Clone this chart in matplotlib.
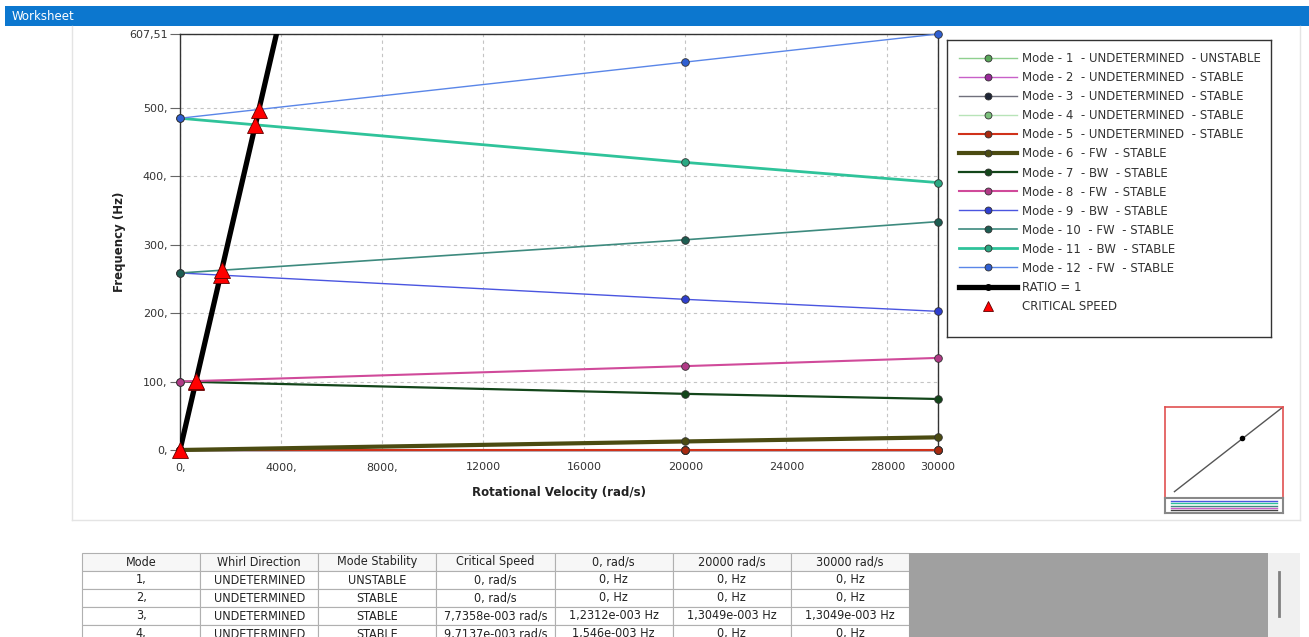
import numpy as np
import matplotlib
matplotlib.use('Agg')
import matplotlib.pyplot as plt
from matplotlib.lines import Line2D
from matplotlib.patches import Rectangle

W, H = 1309, 637

speeds = [0, 20000, 30000]
mode_freqs = {
    1: [0.0, 0.0, 0.0],
    2: [0.0, 0.0, 0.0],
    3: [0.0012312, 0.0013049, 0.0013049],
    4: [0.001546, 0.0, 0.0],
    5: [0.0, 0.0, 0.0],
    6: [0.0, 12.5, 18.5],
    7: [100.0, 82.0, 74.5],
    8: [100.0, 122.5, 134.5],
    9: [258.5, 220.0, 202.5],
    10: [258.5, 307.0, 333.5],
    11: [484.5, 420.0, 390.5],
    12: [484.5, 566.5, 607.51],
}
mode_labels = [
    'Mode - 1  - UNDETERMINED  - UNSTABLE',
    'Mode - 2  - UNDETERMINED  - STABLE',
    'Mode - 3  - UNDETERMINED  - STABLE',
    'Mode - 4  - UNDETERMINED  - STABLE',
    'Mode - 5  - UNDETERMINED  - STABLE',
    'Mode - 6  - FW  - STABLE',
    'Mode - 7  - BW  - STABLE',
    'Mode - 8  - FW  - STABLE',
    'Mode - 9  - BW  - STABLE',
    'Mode - 10  - FW  - STABLE',
    'Mode - 11  - BW  - STABLE',
    'Mode - 12  - FW  - STABLE',
]
ratio_speed = [0, 30000]
ratio_freq = [0, 4774.65]
crit_speed = [0, 625, 633, 1608, 1652, 2986, 3121]
crit_freq = [0, 99.5, 100.7, 256.0, 263.0, 475.2, 496.8]

x_ticks = [0, 4000, 8000, 12000, 16000, 20000, 24000, 28000, 30000]
x_ticklabels = ['0,', '4000,', '8000,', '12000', '16000', '20000', '24000', '28000', '30000']
y_ticks = [0, 100, 200, 300, 400, 500, 607.51]
y_ticklabels = ['0,', '100,', '200,', '300,', '400,', '500,', '607,51']

table_cols = ['Mode', 'Whirl Direction', 'Mode Stability', 'Critical Speed',
              '0, rad/s', '20000 rad/s', '30000 rad/s']
table_mode = ['1,', '2,', '3,', '4,']
table_whirl = ['UNDETERMINED', 'UNDETERMINED', 'UNDETERMINED', 'UNDETERMINED']
table_stab = ['UNSTABLE', 'STABLE', 'STABLE', 'STABLE']
table_crit = ['0, rad/s', '0, rad/s', '7,7358e-003 rad/s', '9,7137e-003 rad/s']
table_0 = ['0, Hz', '0, Hz', '1,2312e-003 Hz', '1,546e-003 Hz']
table_20000 = ['0, Hz', '0, Hz', '1,3049e-003 Hz', '0, Hz']
table_30000 = ['0, Hz', '0, Hz', '1,3049e-003 Hz', '0, Hz']

# line style per mode: (line colour, marker colour, line width)
styles = {
    1: ('#8fd08f', '#5aa85a', 1.0),
    2: ('#c860c8', '#9a2a9a', 1.0),
    3: ('#70707c', '#1e2535', 1.0),
    4: ('#b8e4b8', '#7cc07c', 1.0),
    5: ('#d0321a', '#a82a10', 1.5),
    6: ('#4b4b12', '#4b4b12', 3.0),
    7: ('#13461a', '#13461a', 1.6),
    8: ('#d04a9a', '#b03a86', 1.5),
    9: ('#4a55e0', '#2f3fcf', 1.0),
    10: ('#3d8a7e', '#1d5d52', 1.2),
    11: ('#2fc39a', '#2aa882', 2.0),
    12: ('#5a86e8', '#2f5fd2', 1.0),
}


def fx(x):
    return x / W


def fy(y):
    return 1 - y / H


fig = plt.figure(figsize=(W / 100, H / 100), dpi=100)
fig.patch.set_facecolor('white')

# title bar
fig.add_artist(Rectangle((fx(5), fy(26)), fx(W - 5), 20 / H, transform=fig.transFigure,
                         facecolor='#0c77cf', edgecolor='none'))
fig.text(fx(12), fy(16), 'Worksheet', color='white', fontsize=8.5, va='center', ha='left')

# panel outline
fig.add_artist(Line2D([fx(72), fx(72)], [fy(26), fy(520)], color='#e4e4e4', lw=1))
fig.add_artist(Line2D([fx(72), fx(1300)], [fy(520), fy(520)], color='#e4e4e4', lw=1))
fig.add_artist(Line2D([fx(1300), fx(1300)], [fy(26), fy(520)], color='#e4e4e4', lw=1))

# main chart
ax = fig.add_axes([fx(180), fy(450), fx(938 - 180), (450 - 34) / H])
handles = []
for m in range(1, 13):
    lc, mc, lw = styles[m]
    ln, = ax.plot(speeds, mode_freqs[m], color=lc, lw=lw, marker='o', markersize=5.5,
                  markerfacecolor=mc, markeredgecolor='#303030', markeredgewidth=0.6,
                  zorder=3, clip_on=False)
    handles.append(Line2D([], [], color=lc, lw=lw, marker='o', markersize=5,
                          markerfacecolor=mc, markeredgecolor='#303030', markeredgewidth=0.6))
ax.plot(ratio_speed, ratio_freq, color='black', lw=3.8, zorder=4)
handles.append(Line2D([], [], color='black', lw=3.8, marker='o', markersize=4))
ax.plot(crit_speed, crit_freq, ls='none', marker='^', markersize=11, color='#ff0000',
        markeredgecolor='#600000', markeredgewidth=0.6, zorder=5, clip_on=False)
handles.append(Line2D([], [], ls='none', marker='^', markersize=7, color='#ff0000',
                      markeredgecolor='#600000', markeredgewidth=0.6))
labels = mode_labels + ['RATIO = 1', 'CRITICAL SPEED']

ax.set_xlim(0, 30000)
ax.set_ylim(0, 607.51)
ax.set_xticks(x_ticks)
ax.set_xticklabels(x_ticklabels)
ax.set_yticks(y_ticks)
ax.set_yticklabels(y_ticklabels)
ax.tick_params(axis='x', length=0, pad=9, labelsize=8, labelcolor='#333333')
ax.tick_params(axis='y', length=7, width=0.8, color='#666666', pad=2, labelsize=8,
               labelcolor='#333333')
ax.grid(True, color='#c4c4c4', ls=(0, (3, 3)), lw=0.8)
for s in ax.spines.values():
    s.set_color('#333333')
    s.set_linewidth(1.0)
ax.set_xlabel('Rotational Velocity (rad/s)', fontsize=8.5, fontweight='bold',
              color='#222222', labelpad=10)
ax.set_ylabel('Frequency (Hz)', fontsize=8.5, fontweight='bold', color='#222222',
              labelpad=2)

# legend box
lax = fig.add_axes([fx(947), fy(337), fx(1271 - 947), (337 - 40) / H])
lax.set_xticks([])
lax.set_yticks([])
for s in lax.spines.values():
    s.set_color('#333333')
    s.set_linewidth(1.0)
leg = lax.legend(handles, labels, loc='upper left', frameon=False, fontsize=8.5,
                 handlelength=4.9, handletextpad=0.4, labelspacing=0.51,
                 borderaxespad=0.3, borderpad=0.75)
for t in leg.get_texts():
    t.set_color('#333333')

# overview inset
iax = fig.add_axes([fx(1165), fy(505), fx(1283 - 1165), (505 - 407) / H])
iax.set_xticks([])
iax.set_yticks([])
for s in iax.spines.values():
    s.set_color('#e05050')
    s.set_linewidth(1.2)
iax.plot([0.08, 1.0], [0.05, 1.0], color='#555555', lw=1)
iax.plot([0.65], [0.65], marker='o', color='black', markersize=3)
iax.set_xlim(0, 1)
iax.set_ylim(-0.1, 1)
sax = fig.add_axes([fx(1165), fy(513), fx(1283 - 1165), 15 / H])
sax.set_xticks([])
sax.set_yticks([])
sax.set_facecolor('white')
for s in sax.spines.values():
    s.set_color('#888888')
    s.set_linewidth(1.5)
for yy, c in zip([0.2, 0.35, 0.5, 0.65, 0.8], ['#444444', '#c860c8', '#3d8a7e', '#2fc39a', '#4a55e0']):
    sax.plot([0.05, 0.95], [yy, yy], color=c, lw=1)
sax.set_xlim(0, 1)
sax.set_ylim(0, 1)

# table
rows = list(zip(table_mode, table_whirl, table_stab, table_crit, table_0, table_20000, table_30000))
tax = fig.add_axes([fx(82), fy(643), fx(909 - 82), (643 - 553) / H])
tax.axis('off')
tbl = tax.table(cellText=rows, colLabels=table_cols, cellLoc='center', bbox=[0, 0, 1, 1])
tbl.auto_set_font_size(False)
for (r, c), cell in tbl.get_celld().items():
    cell.set_edgecolor('#b0b0b0')
    cell.set_linewidth(0.8)
    cell.get_text().set_fontsize(9)
    cell.get_text().set_fontstretch('condensed')
    cell.get_text().set_color('#222222')
    if r == 0:
        cell.set_facecolor('#f7f7f7')

fig.add_artist(Rectangle((fx(909), fy(643)), fx(1268 - 909), (643 - 553) / H,
                         transform=fig.transFigure, facecolor='#a0a0a0', edgecolor='none'))
fig.add_artist(Rectangle((fx(1268), fy(643)), fx(1300 - 1268), (643 - 553) / H,
                         transform=fig.transFigure, facecolor='#f0f0f0', edgecolor='none'))
fig.add_artist(Line2D([fx(1279), fx(1279)], [fy(572), fy(616)], color='#808080', lw=2))

fig.savefig('out.png', dpi=100)
